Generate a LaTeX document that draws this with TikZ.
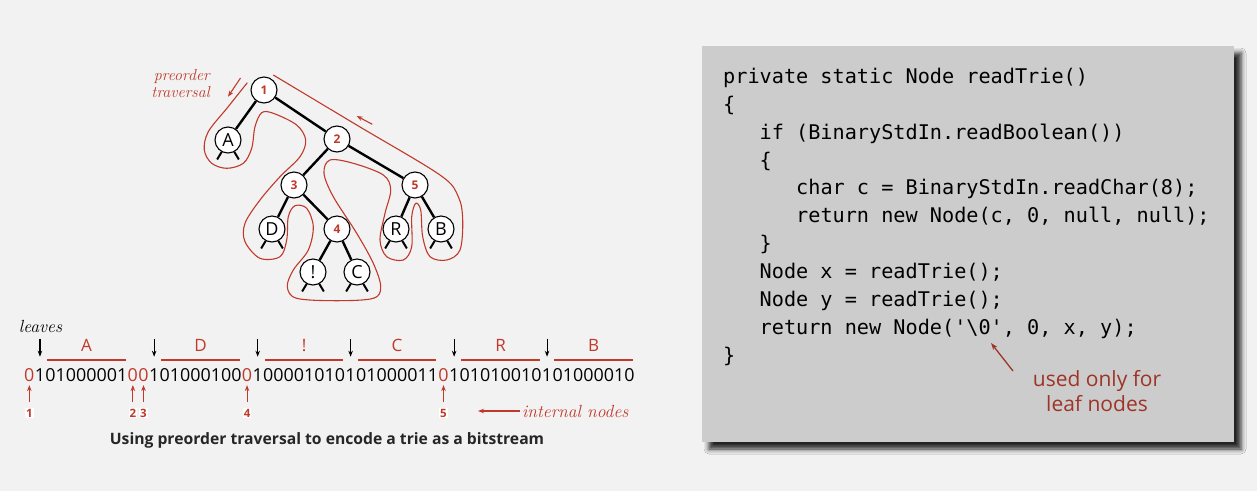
\documentclass[tikz,border=0pt]{standalone}
\usepackage{fontspec}
\setmonofont{DejaVu Sans Mono}
\newfontfamily\sansf{Open Sans}
\usetikzlibrary{arrows.meta,calc,shadows.blur}

\definecolor{trred}{RGB}{192,57,43}
\definecolor{notered}{RGB}{158,52,40}
\definecolor{pagebg}{RGB}{242,242,242}
\definecolor{codebg}{RGB}{204,204,204}
\newcommand{\ind}{\hphantom{xxx}}

\tikzset{
  tnode/.style={circle, draw, line width=1.1pt, fill=white, minimum size=26pt, inner sep=0pt},
  inode/.style={tnode, text=trred, font=\sansf\bfseries\fontsize{12}{12}\selectfont},
  lnode/.style={tnode, font=\sansf\fontsize{18}{18}\selectfont},
  link/.style={line width=2.4pt},
  stub/.style={line width=2pt},
  trav/.style={trred, line width=1.1pt},
  redarrow/.style={trred, line width=1.1pt, -{Stealth[length=6pt,width=4.5pt]}},
  leafarrow/.style={line width=1.1pt, -{Stealth[length=6pt,width=4.5pt]}},
  bits/.style={inner sep=0pt, anchor=base west, font=\sansf\fontsize{17.9}{20}\selectfont},
  bar/.style={trred, line width=2.4pt},
  barlabel/.style={text=trred, inner sep=0pt, font=\sansf\fontsize{17}{17}\selectfont},
  bitnum/.style={text=trred, fill=white, inner sep=1pt, font=\sansf\bfseries\fontsize{11.5}{11.5}\selectfont},
  serifit/.style={text=trred, inner sep=2pt, font=\itshape\fontsize{17.6}{17}\selectfont},
  codebox/.style={fill=codebg, minimum width=532pt, minimum height=396pt, inner sep=0pt,
    blur shadow={shadow xshift=7pt, shadow yshift=-7pt, shadow blur radius=5pt, shadow opacity=85}},
  codeline/.style={anchor=base west, inner sep=0pt, font=\ttfamily\fontsize{20.2}{24}\selectfont},
  notetext/.style={text=notered, align=center, inner sep=0pt, font=\sansf\fontsize{21}{24.6}\selectfont},
  notearrow/.style={notered, line width=1.3pt, -{Stealth[length=7pt,width=5pt]}},
}

\begin{document}
\begin{tikzpicture}[x=1pt,y=1pt,yscale=-1,xscale=1]
\useasboundingbox (0,0) rectangle (1257,491);
\fill[pagebg] (0,0) rectangle (1257,491);

%Tree nodes
\node[inode] (n1) at (264,90) {1};
\node[lnode] (A) at (228,140) {A};
\node[inode] (n2) at (337,139) {2};
\node[inode] (n3) at (294,185) {3};
\node[inode] (n5) at (415,185) {5};
\node[lnode] (D) at (272,229) {D};
\node[inode] (n4) at (337,229) {4};
\node[lnode] (R) at (396,229) {R};
\node[lnode] (B) at (441,229) {B};
\node[lnode] (X) at (313,272) {!};
\node[lnode] (C) at (357,272) {C};

%Tree links
\foreach \a/\b in {n1/A, n1/n2, n2/n3, n2/n5, n3/D, n3/n4, n4/X, n4/C, n5/R, n5/B}
  \draw[link] (\a) -- (\b);
%null links below the leaves
\foreach \n in {A, D, X, C, R, B} {
  \draw[stub] (\n.-118) -- ++(-4.5,7.5);
  \draw[stub] (\n.-62) -- ++(4.5,7.5);
}

%Preorder traversal contour
\draw[trav] plot[smooth, tension=0.55] coordinates {
  (247.3,82.7) (227.8,107.2) (208.3,131.7) (204.3,150) (211.7,163.3) (226.7,168.3)
  (243.3,163.3) (251.7,148.3) (255,126.7) (261.7,112.7) (273.3,113.3) (296.7,125)
  (305.7,140) (300,156.7) (280,176.7) (260,200) (245,223.3) (245,241.7) (260,258.3)
  (280,256.7) (286.7,240) (288.3,216.7) (295,205.7) (306.7,208.3) (313.3,226.7)
  (308.3,250) (293.3,270) (287.3,286.7) (296.7,298.3) (336.7,300.7) (373.3,298.3)
  (380.7,286.7) (373.3,263.3) (356.7,233.3) (333.3,196.7) (324,173.3) (330,160)
  (353.3,163.3) (383.3,175) (390.7,190) (385,213.3) (380,240) (386.7,256.7)
  (403.3,260) (411.7,246.7) (411.7,216.7) (415.7,203.3) (420.7,210) (422.7,236.7)
  (430,256.7) (446.7,260) (460,250) (462.7,220) (458.3,196.7) (440,175)
  (356.7,125) (273.3,75)};
\coordinate (pa) at (240.5,78);
\coordinate (pb) at (228,96.7);
\draw[redarrow] (pa) -- (pb);
\coordinate (pc) at (372.3,124.3);
\coordinate (pd) at (356.7,116);
\draw[redarrow] (pc) -- (pd);

% Text Node
\node[serifit, font=\itshape\fontsize{16}{17}\selectfont, align=right, anchor=east] (ptrav) at (212,84) {preorder\\traversal};

%Bitstream
\node[bits, text=trred] (z1) at (24,381.7) {0};
\node[bits] (lA) at (z1.base east) {1};
\node[bits] (cA) at (lA.base east) {01000001};
\node[bits, text=trred] (z2) at (cA.base east) {0};
\node[bits, text=trred] (z3) at (z2.base east) {0};
\node[bits] (lD) at (z3.base east) {1};
\node[bits] (cD) at (lD.base east) {01000100};
\node[bits, text=trred] (z4) at (cD.base east) {0};
\node[bits] (lX) at (z4.base east) {1};
\node[bits] (cX) at (lX.base east) {00001010};
\node[bits] (lC) at (cX.base east) {1};
\node[bits] (cC) at (lC.base east) {01000011};
\node[bits, text=trred] (z5) at (cC.base east) {0};
\node[bits] (lR) at (z5.base east) {1};
\node[bits] (cR) at (lR.base east) {01010010};
\node[bits] (lB) at (cR.base east) {1};
\node[bits] (cB) at (lB.base east) {01000010};

%leaf markers
\foreach \l/\c/\t in {lA/cA/A, lD/cD/D, lX/cX/!, lC/cC/C, lR/cR/R, lB/cB/B} {
  \draw[leafarrow] (\l.north) ++(0,-30) -- ++(0,18);
  \draw[bar] ($(\c.north west)+(2,-8.5)$) -- ($(\c.north east)+(-2,-8.5)$);
  \node[barlabel] (lab\c) at ($(\c.north)+(0,-23)$) {\t};
}
%internal node markers
\foreach \z/\k in {z1/1, z2/2, z3/3, z4/4, z5/5} {
  \draw[redarrow] (\z.south) ++(0,20) -- ++(0,-17);
  \node[bitnum] (num\k) at ($(\z.south)+(0,31)$) {\k};
}

% Text Node
\node[serifit, text=black] (leaves) at (40.5,326) {leaves};
\node[serifit, anchor=west] (intl) at (520,411) {internal nodes};
\draw[redarrow] (intl.west) -- ++(-42,0);
\node[text=black!85, inner sep=0pt, font=\sansf\bfseries\fontsize{15.7}{15.7}\selectfont] (cap) at (327,440)
  {Using preorder traversal to encode a trie as a bitstream};

%Code box
\node[codebox] (box) at (968,244) {};
\foreach \t [count=\i from 0] in {
  {private static Node readTrie()},
  \{,
  {\ind if (BinaryStdIn.readBoolean())},
  {\ind \{},
  {\ind\ind char c = BinaryStdIn.readChar(8);},
  {\ind\ind return new Node(c, 0, null, null);},
  {\ind \}},
  {\ind Node x = readTrie();},
  {\ind Node y = readTrie();},
  {\ind return new Node('\textbackslash 0', 0, x, y);},
  \}}
  \node[codeline] (code\i) at (723,83.3+27.9*\i) {\t};

% Text Node
\node[notetext] (note) at (1097,391) {used only for\\leaf nodes};
\coordinate (ntail) at (1013,371);
\coordinate (ntip) at (991,343);
\draw[notearrow] (ntail) -- (ntip);

\end{tikzpicture}
\end{document}
